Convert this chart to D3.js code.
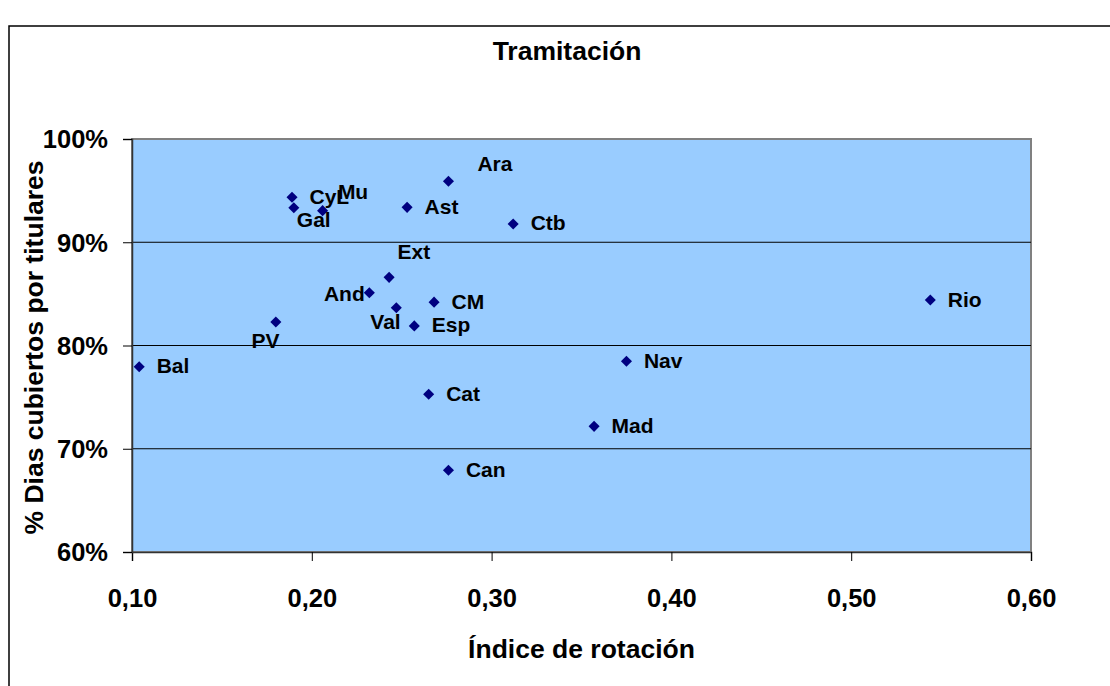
<!DOCTYPE html>
<html>
<head>
<meta charset="utf-8">
<script src="https://cdn.jsdelivr.net/npm/d3@7"></script>
<style>
html,body{margin:0;padding:0;background:#fff;}
svg{display:block;font-family:"Liberation Sans",Arial,sans-serif;}
</style>
</head>
<body>
<svg id="chart" width="1110" height="686"></svg>
<script>
// ---- data ----
const regions = ["Ara","CyL","Mu","Gal","Ast","Ctb","Ext","And","CM","Val","Esp","PV","Bal","Rio","Nav","Cat","Mad","Can"];
const rotationIndex = [0.276,0.189,0.206,0.190,0.253,0.312,0.243,0.232,0.268,0.247,0.257,0.180,0.104,0.544,0.375,0.265,0.357,0.276];
const daysCovered = [0.959,0.9435,0.9306,0.9335,0.9338,0.9177,0.866,0.851,0.842,0.8366,0.819,0.8228,0.7795,0.844,0.7847,0.7527,0.7217,0.6791];
const xTicks = [0.10,0.20,0.30,0.40,0.50,0.60];
const yTicks = [0.60,0.70,0.80,0.90,1.00];
const chartTitle = "Tramitación";
const xTitle = "Índice de rotación";
const yTitle = "% Dias cubiertos por titulares";

// ---- layout ----
const svg = d3.select("#chart");
const L = 132, R = 1031, T = 139, B = 552;
const x = d3.scaleLinear().domain([0.1,0.6]).range([L,R]);
const y = d3.scaleLinear().domain([0.6,1.0]).range([B,T]);

// label placements (offsets from marker centre to text start / baseline)
const defaultOff = [17.5, 6.5];
const labelOff = {
  "Mu":[15.3,-11.4], "Gal":[3,19.6], "Ara":[29,-10.6], "Ext":[8.4,-18],
  "And":[-45.4,8], "Val":[-26,21.6], "PV":[-24.3,26.3]
};

// outer frame
svg.append("rect").attr("x",9).attr("y",26).attr("width",1200).attr("height",800)
  .attr("fill","none").attr("stroke","#000").attr("stroke-width",1.5);

// plot area
svg.append("rect").attr("x",L).attr("y",T).attr("width",R-L).attr("height",B-T)
  .attr("fill","#99CCFF").attr("stroke","#808080").attr("stroke-width",2);

// gridlines
svg.append("g").selectAll("line").data(yTicks.filter(d=>d>0.6 && d<1.0)).join("line")
  .attr("x1",L).attr("x2",R).attr("y1",d=>y(d)).attr("y2",d=>y(d))
  .attr("stroke","#000").attr("stroke-width",1);

// axes
const fmtX = d => d3.format(".2f")(d).replace(".",",");
const fmtY = d => d3.format(".0%")(d);
const xAxis = svg.append("g").attr("transform",`translate(0,${B})`)
  .call(d3.axisBottom(x).tickValues(xTicks).tickFormat(fmtX).tickSize(9).tickPadding(33));
const yAxis = svg.append("g").attr("transform",`translate(${L},0)`)
  .call(d3.axisLeft(y).tickValues(yTicks).tickFormat(fmtY).tickSize(9).tickPadding(15));
[xAxis,yAxis].forEach(a=>{
  a.select(".domain").attr("stroke","#333").attr("stroke-width",1.5);
  a.selectAll(".tick line").attr("stroke","#000").attr("stroke-width",1);
  a.selectAll("text").attr("font-family","Liberation Sans, Arial, sans-serif")
    .attr("font-weight","bold").attr("font-size",25.5).attr("fill","#000");
});
xAxis.selectAll("text").attr("dy",null).attr("y",null)
  .attr("transform","translate(0,54.5)");
yAxis.selectAll("text").attr("dy","0.35em");

// points
const pts = regions.map((r,i)=>({name:r, xv:rotationIndex[i], yv:daysCovered[i]}));
svg.append("g").selectAll("path").data(pts).join("path")
  .attr("d", d3.symbol().type(d3.symbolDiamond2).size(78))
  .attr("transform", d=>`translate(${x(d.xv)},${y(d.yv)})`)
  .attr("fill","#000080");

// labels
svg.append("g").selectAll("text").data(pts).join("text")
  .attr("x", d=>x(d.xv) + (labelOff[d.name]||defaultOff)[0])
  .attr("y", d=>y(d.yv) + (labelOff[d.name]||defaultOff)[1])
  .attr("font-weight","bold").attr("font-size",21).attr("fill","#000")
  .text(d=>d.name);

// titles
svg.append("text").attr("x",567).attr("y",59.5).attr("text-anchor","middle")
  .attr("font-weight","bold").attr("font-size",26.5).text(chartTitle);
svg.append("text").attr("x",581.5).attr("y",657.5).attr("text-anchor","middle")
  .attr("font-weight","bold").attr("font-size",26.5).text(xTitle);
svg.append("text").attr("transform","translate(43,347.5) rotate(-90)").attr("text-anchor","middle")
  .attr("font-weight","bold").attr("font-size",26.5).text(yTitle);
</script>
</body>
</html>
